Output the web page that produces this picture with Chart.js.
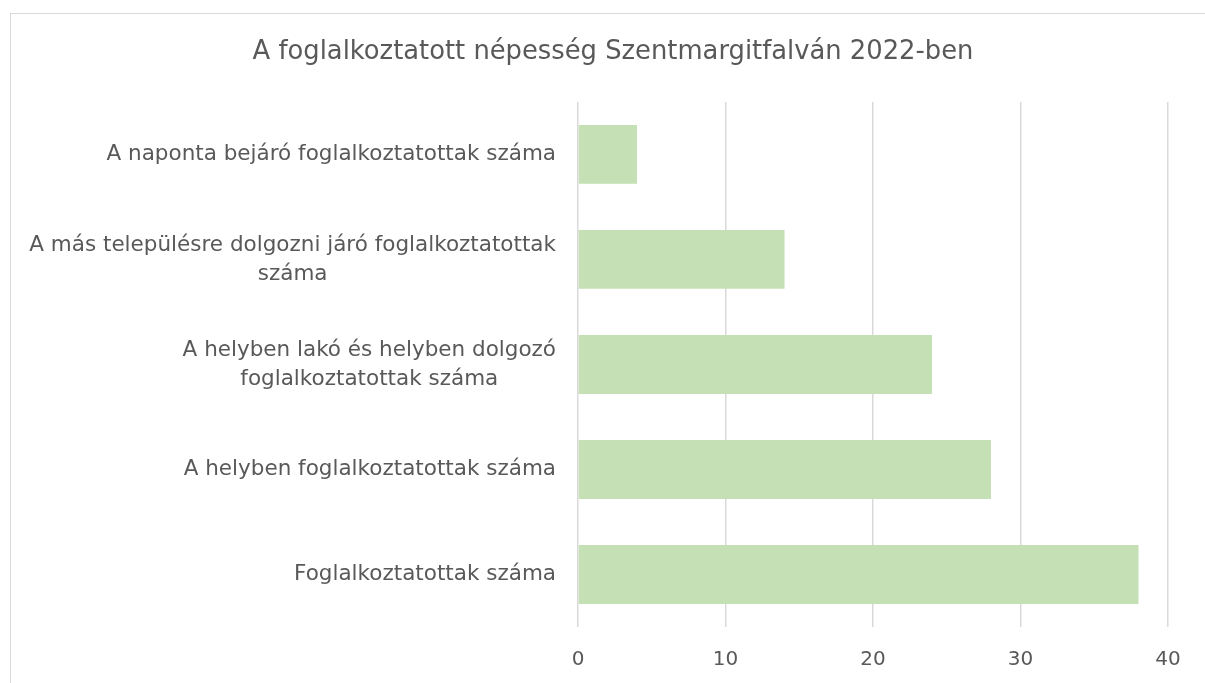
<!DOCTYPE html>
<html>
  <head>
    <title>A foglalkoztatott népesség Szentmargitfalván 2022-ben</title>
    <script src="https://cdn.jsdelivr.net/npm/chart.js@4"></script>
    <style>
      html, body { margin: 0; padding: 0; overflow: hidden; background: #fff; }
      #frame {
        position: absolute; left: 10px; top: 13px;
        width: 1300px; height: 800px;
        border: 1px solid #d9d9d9;
      }
      #myChart { position: absolute; left: 0; top: 0; }
    </style>
  </head>
  <body>
    <div id="frame"></div>
    <canvas id="myChart" width="1205" height="683"></canvas>

    <script>
      var chartTitle = "A foglalkoztatott népesség Szentmargitfalván 2022-ben";
      var categories = [
        ["A naponta bejáró foglalkoztatottak száma"],
        ["A más településre dolgozni járó foglalkoztatottak", "száma"],
        ["A helyben lakó és helyben dolgozó", "foglalkoztatottak száma"],
        ["A helyben foglalkoztatottak száma"],
        ["Foglalkoztatottak száma"]
      ];
      var values = [4, 14, 24, 28, 38];
      var axisMin = 0;
      var axisMax = 40;
      var axisStep = 10;

      var fontFamily = "'DejaVu Sans', sans-serif";
      var textColor = "#595959";

      // category labels: block right-aligned at the axis, lines centred in the block
      var labelPlugin = {
        id: "centredLabels",
        afterDraw: function (chart) {
          var scale = chart.scales.y;
          var ctx = chart.ctx;
          ctx.save();
          ctx.font = "21.5px " + fontFamily;
          ctx.fillStyle = textColor;
          ctx.textAlign = "center";
          ctx.textBaseline = "middle";
          var lh = 29;
          for (var i = 0; i < categories.length; i++) {
            var lines = categories[i];
            var w = 0;
            lines.forEach(function (l) { w = Math.max(w, ctx.measureText(l).width); });
            var right = scale.right - 22;
            var cx = right - w / 2;
            var y0 = scale.getPixelForTick(i) - (lines.length - 1) * lh / 2;
            lines.forEach(function (l, k) { ctx.fillText(l, cx, y0 + k * lh); });
          }
          ctx.restore();
        }
      };

      var ctx = document.getElementById("myChart").getContext("2d");
      var myChart = new Chart(ctx, {
        type: "bar",
        data: {
          labels: categories,
          datasets: [
            {
              data: values,
              backgroundColor: "#C5E0B4",
              borderWidth: 0,
              barPercentage: 0.56,
              categoryPercentage: 1
            }
          ]
        },
        plugins: [labelPlugin],
        options: {
          indexAxis: "y",
          responsive: false,
          animation: false,
          layout: { padding: { left: 58, right: 37, top: 0, bottom: 0 } },
          plugins: {
            legend: { display: false },
            tooltip: { enabled: false },
            title: {
              display: true,
              text: chartTitle,
              color: textColor,
              font: { family: fontFamily, size: 25.8, weight: "normal" },
              padding: { top: 37, bottom: 34 }
            }
          },
          scales: {
            x: {
              min: axisMin,
              max: axisMax,
              ticks: {
                stepSize: axisStep,
                color: textColor,
                font: { family: fontFamily, size: 20 },
                padding: 21
              },
              grid: { color: "#d9d9d9", lineWidth: 1.5, drawTicks: false },
              border: { display: false },
              afterFit: function (scale) { scale.height = 56; }
            },
            y: {
              ticks: { color: "rgba(0,0,0,0)", font: { family: fontFamily, size: 18 } },
              grid: { display: false },
              border: { display: false },
              afterFit: function (scale) { scale.width = 520; }
            }
          }
        }
      });
    </script>
  </body>
</html>
